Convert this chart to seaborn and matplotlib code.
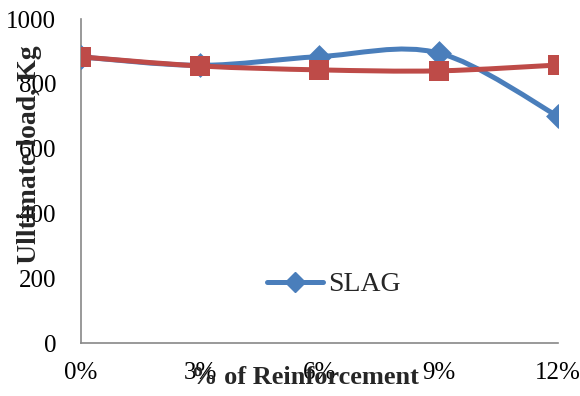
import numpy as np
import pandas as pd
import seaborn as sns
import matplotlib
matplotlib.use("Agg")
from matplotlib import pyplot as plt
from matplotlib.path import Path
from matplotlib.patches import PathPatch
from matplotlib.lines import Line2D

# data
reinforcement = [0, 3, 6, 9, 12]
tick_labels = ["0%", "3%", "6%", "9%", "12%"]
slag = [883, 857, 884, 895, 700]
other = [883, 855, 843, 840, 858]

BLUE = "#4A7EBB"
RED = "#BE4B48"

sns.set_style("white")
plt.rcParams['font.family'] = ['Liberation Serif', 'DejaVu Serif']


def smooth_path(xs, ys):
    # excel style smoothed line: bezier segments through the points
    pts = np.column_stack([xs, ys]).astype(float)
    n = len(pts)
    verts = [pts[0]]
    codes = [Path.MOVETO]
    for i in range(n - 1):
        p0 = pts[i - 1] if i > 0 else pts[i]
        p1 = pts[i]
        p2 = pts[i + 1]
        p3 = pts[i + 2] if i + 2 < n else pts[i + 1]
        c1 = p1 + (p2 - p0) / 6.0
        c2 = p2 - (p3 - p1) / 6.0
        verts += [c1, c2, p2]
        codes += [Path.CURVE4] * 3
    return Path(verts, codes)


df = pd.DataFrame({"x": reinforcement, "slag": slag, "other": other})

fig = plt.figure(figsize=(5.8, 3.96), dpi=100)
ax = fig.add_axes([0.1397, 0.1338, 0.8223, 0.8182])

ax.add_patch(PathPatch(smooth_path(df["x"], df["slag"]), fill=False,
                       edgecolor=BLUE, lw=3.6, capstyle="round", zorder=2))
sns.scatterplot(data=df, x="x", y="slag", marker="D", s=160, color=BLUE,
                edgecolor=BLUE, linewidth=0, ax=ax, zorder=3, legend=False)
ax.add_patch(PathPatch(smooth_path(df["x"], df["other"]), fill=False,
                       edgecolor=RED, lw=3.6, capstyle="round", zorder=4))
sns.scatterplot(data=df, x="x", y="other", marker="s", s=190, color=RED,
                edgecolor=RED, linewidth=0, ax=ax, zorder=5, legend=False)

ax.set_xlim(0, 12)
ax.set_ylim(0, 1000)
ax.set_xticks(reinforcement)
ax.set_xticklabels(tick_labels)
ax.set_yticks([0, 200, 400, 600, 800, 1000])
ax.tick_params(axis="both", length=0, labelsize=18, colors="black")
ax.tick_params(axis="y", pad=18)
ax.tick_params(axis="x", pad=14)

for s in ["top", "right"]:
    ax.spines[s].set_visible(False)
for s in ["left", "bottom"]:
    ax.spines[s].set_color("#888888")
    ax.spines[s].set_linewidth(1.2)

ax.set_xlabel("% of Reinforcement", fontsize=19, fontweight="bold")
ax.xaxis.set_label_coords(0.47, -0.105)
ax.xaxis.label.set_va("center")
ax.set_ylabel("Ulltimate load, Kg", fontsize=20, fontweight="bold")
ax.yaxis.set_label_coords(-0.107, 0.58)
ax.yaxis.label.set_va("center")

handle = Line2D([], [], color=BLUE, lw=3.6, marker="D", markersize=10)
ax.legend(handles=[handle], labels=["SLAG"], loc="center left",
          bbox_to_anchor=(0.39, 0.18), frameon=False, fontsize=20,
          handlelength=2.0, handletextpad=0.2, borderpad=0,
          borderaxespad=0)

fig.savefig("out.png", dpi=100)
